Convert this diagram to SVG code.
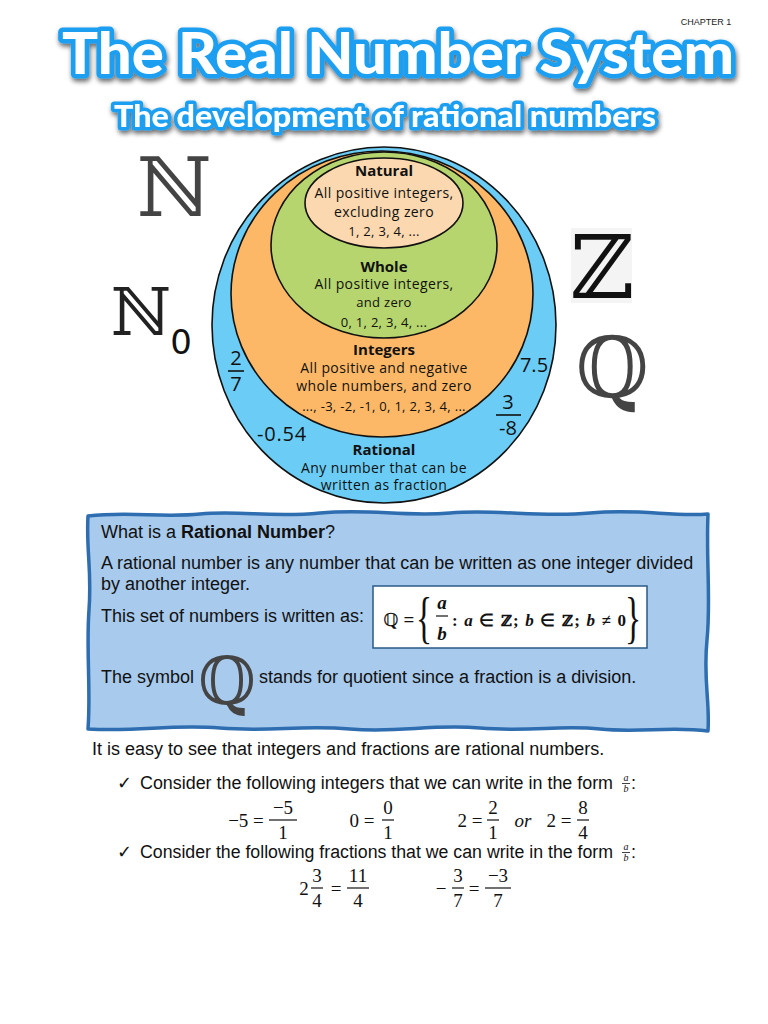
<svg xmlns="http://www.w3.org/2000/svg" width="768" height="1024" viewBox="0 0 768 1024">
<defs>
<filter id="shadow" x="-5%" y="-20%" width="110%" height="150%">
<feGaussianBlur in="SourceAlpha" stdDeviation="2.5"/>
<feOffset dx="1" dy="3" result="b"/>
<feComponentTransfer><feFuncA type="linear" slope="0.6"/></feComponentTransfer>
<feMerge><feMergeNode/><feMergeNode in="SourceGraphic"/></feMerge>
</filter>
</defs>
<style>
.title{font-family:Lato,"Open Sans",sans-serif;font-weight:900;fill:#fff;stroke:#1E9FF0;paint-order:stroke;stroke-linejoin:round}
.ring{stroke:#111;stroke-width:1.6}
.dh{font-family:"Open Sans","Noto Sans",sans-serif;font-weight:700;font-size:15px;fill:#111;text-anchor:middle}
.dt{font-family:"Open Sans","Noto Sans",sans-serif;font-size:14px;letter-spacing:0.4px;fill:#111;text-anchor:middle}
.ds{font-family:"Open Sans","Noto Sans",sans-serif;font-size:13px;letter-spacing:0.3px;fill:#111;text-anchor:middle}
.num{font-family:"Open Sans","Noto Sans",sans-serif;font-size:20px;fill:#111;text-anchor:middle}
.bb{font-family:"DejaVu Serif","DejaVu Sans",serif}
.body{font-family:"Liberation Sans",Arial,sans-serif;font-size:18px;fill:#111}
.m{font-family:"Liberation Serif","Times New Roman",serif;font-size:19px;fill:#111;text-anchor:middle}
.mi{font-family:"Liberation Serif","Times New Roman",serif;font-style:italic;fill:#111}
.bar{stroke:#111;stroke-width:1.2}
</style>
<rect width="768" height="1024" fill="#fff"/>

<g id="header">
<text x="706" y="25" font-family="Liberation Sans,Arial,sans-serif" font-size="9" fill="#222" text-anchor="middle">CHAPTER 1</text>
<g filter="url(#shadow)">
<text class="title" x="62" y="74" font-size="57" stroke-width="9" textLength="672" lengthAdjust="spacingAndGlyphs">The Real Number System</text>
<text class="title" x="114" y="127" font-size="31" stroke-width="7" textLength="542" lengthAdjust="spacingAndGlyphs">The development of rational numbers</text>
</g>
</g>

<g id="rational">
<ellipse class="ring" cx="384" cy="325" rx="172" ry="178" fill="#6BCDF5"/>
</g>
<g id="integers">
<ellipse class="ring" cx="382" cy="294" rx="151" ry="143" fill="#FCB867"/>
</g>
<g id="whole">
<ellipse class="ring" cx="384" cy="245" rx="113" ry="93" fill="#B6D56E"/>
</g>
<g id="natural">
<ellipse class="ring" cx="384" cy="203" rx="79" ry="45" fill="#FBD8AF"/>
<text class="dh" x="384" y="176">Natural</text>
<text class="dt" x="384" y="198">All positive integers,</text>
<text class="dt" x="384" y="217">excluding zero</text>
<text class="ds" x="384" y="236">1, 2, 3, 4, ...</text>
</g>
<g id="whole-text">
<text class="dh" x="384" y="272">Whole</text>
<text class="dt" x="384" y="289">All positive integers,</text>
<text class="ds" x="384" y="307">and zero</text>
<text class="ds" x="384" y="327">0, 1, 2, 3, 4, ...</text>
</g>
<g id="integers-text">
<text class="dh" x="384" y="355">Integers</text>
<text class="dt" x="384" y="373">All positive and negative</text>
<text class="dt" x="384" y="391">whole numbers, and zero</text>
<text class="ds" x="384" y="411">..., -3, -2, -1, 0, 1, 2, 3, 4, ...</text>
</g>
<g id="rational-text">
<text class="dh" x="384" y="455">Rational</text>
<text class="dt" x="384" y="473">Any number that can be</text>
<text class="dt" x="384" y="490">written as fraction</text>
</g>
<g id="examples">
<text class="num" x="236" y="365">2</text>
<line x1="228" y1="371" x2="244" y2="371" stroke="#111" stroke-width="1.6"/>
<text class="num" x="236" y="391">7</text>
<text class="num" x="534" y="372" font-size="19">7.5</text>
<text class="num" x="508" y="409">3</text>
<line x1="496" y1="415" x2="521" y2="415" stroke="#111" stroke-width="1.6"/>
<text class="num" x="508" y="435">-8</text>
<text class="num" x="282" y="441" letter-spacing="0.8">-0.54</text>
</g>

<g id="symbols">
<text class="bb" x="174" y="216" font-size="82" fill="#444" text-anchor="middle">ℕ</text>
<text class="bb" x="141" y="335" font-size="66" fill="#222" text-anchor="middle">ℕ</text>
<text x="181" y="354" font-family="DejaVu Sans,sans-serif" font-size="34" fill="#111" text-anchor="middle">0</text>
<rect x="571" y="228" width="61" height="75" fill="#F4F4F4"/>
<text class="bb" x="602" y="298" font-size="88" fill="#111" text-anchor="middle">ℤ</text>
<text class="bb" x="612" y="397" font-size="84" fill="#444" text-anchor="middle">ℚ</text>
</g>

<g id="definition-box">
<path d="M88,516 C130,511 160,518 200,514 S270,518 320,513 S400,517 450,513 S540,518 590,513 S670,517 708,514 C706,560 711,600 707,640 S710,700 708,731 C670,726 640,733 600,729 S530,732 480,728 S400,733 350,729 S270,732 220,728 S140,732 88,729 C91,690 86,650 89,610 S86,550 88,516 Z" fill="#A8CAEC" stroke="#2D6DB0" stroke-width="3.5" stroke-linejoin="round"/>
<text class="body" x="101" y="538">What is a <tspan font-weight="bold">Rational Number</tspan>?</text>
<text class="body" x="101" y="569">A rational number is any number that can be written as one integer divided</text>
<text class="body" x="101" y="590">by another integer.</text>
<text class="body" x="101" y="622">This set of numbers is written as:</text>
<rect x="373" y="586" width="274" height="62" fill="#fff" stroke="#2A5A85" stroke-width="1.5"/>
<text class="bb" x="391" y="626" font-size="18" fill="#111" text-anchor="middle" font-weight="bold">ℚ</text>
<text x="409" y="626" font-family="Liberation Serif,serif" font-size="19" font-weight="bold" fill="#111" text-anchor="middle">=</text>
<text x="424" y="637" font-family="Liberation Serif,serif" font-size="56" fill="#111" text-anchor="middle" transform="translate(424 618) scale(0.6 1) translate(-424 -618)">{</text>
<text class="mi" x="442" y="609" font-size="19" font-weight="bold" text-anchor="middle">a</text>
<line x1="436" y1="616" x2="448" y2="616" stroke="#111" stroke-width="1.2"/>
<text class="mi" x="442" y="640" font-size="19" font-weight="bold" text-anchor="middle">b</text>
<text x="452" y="626" font-family="Liberation Serif,serif" font-size="17" font-weight="bold" fill="#111" textLength="174" lengthAdjust="spacing"><tspan>: </tspan><tspan font-style="italic">a</tspan><tspan> ∈ </tspan><tspan font-family="DejaVu Serif,serif" font-size="15">ℤ</tspan><tspan>;  </tspan><tspan font-style="italic">b</tspan><tspan> ∈ </tspan><tspan font-family="DejaVu Serif,serif" font-size="15">ℤ</tspan><tspan>;  </tspan><tspan font-style="italic">b</tspan><tspan> ≠ 0</tspan></text>
<text x="633" y="637" font-family="Liberation Serif,serif" font-size="56" fill="#111" text-anchor="middle" transform="translate(633 618) scale(0.6 1) translate(-633 -618)">}</text>
<text class="body" x="101" y="683">The symbol</text>
<text class="bb" x="227" y="704" font-size="66" fill="#444" text-anchor="middle">ℚ</text>
<text class="body" x="259" y="683">stands for quotient since a fraction is a division.</text>
</g>

<g id="examples-text">
<text class="body" x="92" y="755">It is easy to see that integers and fractions are rational numbers.</text>
<text class="body" x="117" y="789">✓</text>
<text class="body" x="140" y="789" textLength="473" lengthAdjust="spacingAndGlyphs">Consider the following integers that we can write in the form</text>
<text class="mi" x="626" y="781" font-size="10" text-anchor="middle">a</text>
<line x1="622" y1="783.5" x2="630" y2="783.5" stroke="#111" stroke-width="0.8"/>
<text class="mi" x="626" y="792" font-size="10" text-anchor="middle">b</text>
<text class="body" x="631" y="789">:</text>

<text class="m" x="246" y="827">−5 =</text>
<text class="m" x="283" y="814">−5</text>
<line class="bar" x1="269" y1="820" x2="297" y2="820"/>
<text class="m" x="283" y="839">1</text>
<text class="m" x="362" y="827">0 =</text>
<text class="m" x="388" y="814">0</text>
<line class="bar" x1="382" y1="820" x2="394" y2="820"/>
<text class="m" x="388" y="839">1</text>
<text class="m" x="470" y="827">2 =</text>
<text class="m" x="493" y="814">2</text>
<line class="bar" x1="487" y1="820" x2="499" y2="820"/>
<text class="m" x="493" y="839">1</text>
<text class="mi" x="523" y="827" font-size="19" text-anchor="middle">or</text>
<text class="m" x="559" y="827">2 =</text>
<text class="m" x="583" y="814">8</text>
<line class="bar" x1="577" y1="820" x2="589" y2="820"/>
<text class="m" x="583" y="839">4</text>

<text class="body" x="117" y="858">✓</text>
<text class="body" x="140" y="858" textLength="473" lengthAdjust="spacingAndGlyphs">Consider the following fractions that we can write in the form</text>
<text class="mi" x="626" y="850" font-size="10" text-anchor="middle">a</text>
<line x1="622" y1="852.5" x2="630" y2="852.5" stroke="#111" stroke-width="0.8"/>
<text class="mi" x="626" y="861" font-size="10" text-anchor="middle">b</text>
<text class="body" x="631" y="858">:</text>

<text class="m" x="304" y="895">2</text>
<text class="m" x="317" y="882">3</text>
<line class="bar" x1="311" y1="888" x2="323" y2="888"/>
<text class="m" x="317" y="907">4</text>
<text class="m" x="336" y="895">=</text>
<text class="m" x="358" y="882">11</text>
<line class="bar" x1="347" y1="888" x2="369" y2="888"/>
<text class="m" x="358" y="907">4</text>
<text class="m" x="441" y="895">−</text>
<text class="m" x="458" y="882">3</text>
<line class="bar" x1="452" y1="888" x2="464" y2="888"/>
<text class="m" x="458" y="907">7</text>
<text class="m" x="474" y="895">=</text>
<text class="m" x="498" y="882">−3</text>
<line class="bar" x1="485" y1="888" x2="511" y2="888"/>
<text class="m" x="498" y="907">7</text>
</g>
</svg>
